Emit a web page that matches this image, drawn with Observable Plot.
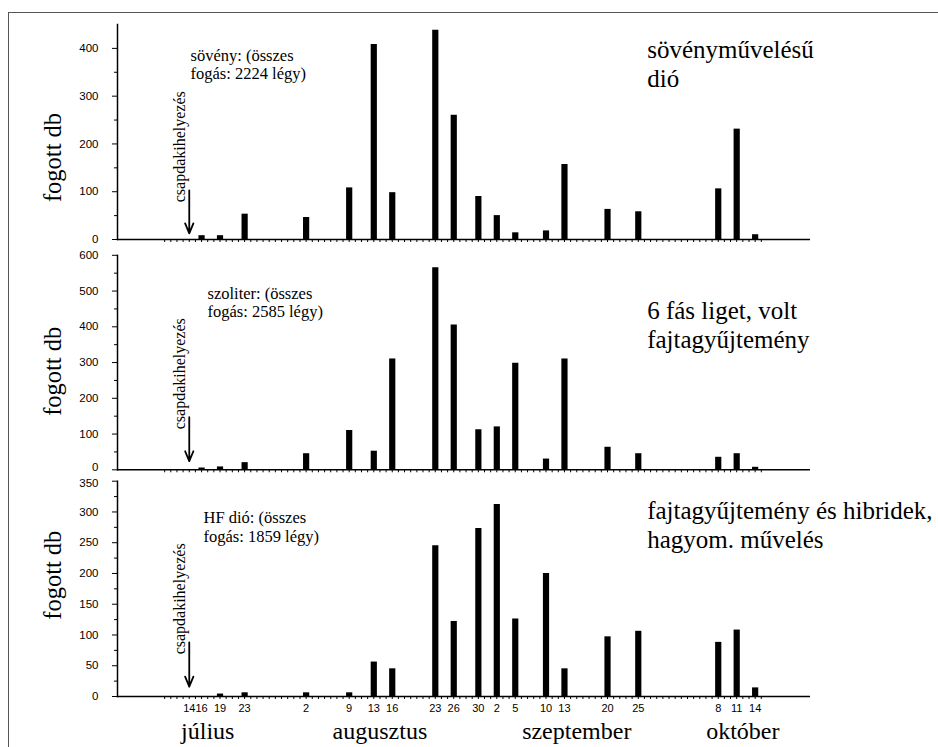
<!DOCTYPE html>
<html><head><meta charset="utf-8">
<script src="https://cdn.jsdelivr.net/npm/d3@7"></script>
<script src="https://cdn.jsdelivr.net/npm/@observablehq/plot@0.6"></script>
<style>
body{margin:0;background:#fff;}
#chart{position:relative;width:938px;height:747px;overflow:hidden;background:#fff;}
#frame{position:absolute;left:8px;top:12px;width:960px;height:760px;border-left:1.5px solid #555;border-top:1.5px solid #555;}
.panel{position:absolute;left:0;}
</style></head><body>
<div id="chart"><div id="frame"></div></div>
<script>
// ---- data ----
const catchDates = ["07-16","07-19","07-23","08-02","08-09","08-13","08-16","08-23","08-26","08-30",
                    "09-02","09-05","09-10","09-13","09-20","09-25","10-08","10-11","10-14"];
const sovenyValues   = [8,8,53,46,108,408,98,438,260,90,50,14,18,157,63,58,106,231,10];
const szoliterValues = [5,8,20,45,110,52,310,565,405,112,120,298,30,310,63,45,35,45,7];
const hfDioValues    = [0,4,6,6,6,56,45,245,122,273,312,126,200,45,97,106,88,108,14];
const tickLabelDates = ["07-14","07-16","07-19","07-23","08-02","08-09","08-13","08-16","08-23","08-26",
                        "08-30","09-02","09-05","09-10","09-13","09-20","09-25","10-08","10-11","10-14"];
const monthNames = ["július","augusztus","szeptember","október"];
const monthLabelDates = ["07-17","08-14","09-15","10-12"];
const trapDate = "07-14";
const trapLabel = "csapdakihelyezés";
const yLabel = "fogott db";
const notes = [["sövény: (összes","fogás: 2224 légy)"],["szoliter: (összes","fogás: 2585 légy)"],["HF dió: (összes","fogás: 1859 légy)"]];
const titles = [["sövényművelésű","dió"],["6 fás liget, volt","fajtagyűjtemény"],["fajtagyűjtemény és hibridek,","hagyom. művelés"]];
const yMax = [450, 600, 350];
const yMajor = [[0,100,200,300,400],[0,100,200,300,400,500,600],[0,50,100,150,200,250,300,350]];
const yMinor = [[50,150,250,350],[50,150,250,350,450,550],[25,75,125,175,225,275,325]];
const arrowSpan = [[13,103],[24,147],[16,88]];

// ---- helpers ----
const year = "2011-";
const parse = d3.utcParse("%Y-%m-%d");
const D = s => parse(year + s);
const serif = "'Liberation Serif','Times New Roman',serif";
const sans = "'Liberation Sans',Arial,sans-serif";
const xDomain = [new Date(Date.UTC(2011,6,2,8)), new Date(Date.UTC(2011,9,23,0))];
const dayTicks = d3.utcDay.range(D("07-10"), D("10-16"));

// where panels meet, the touching tick labels are nudged apart a little
const layout = [
  {top:0,   mt:24,   mb:8,  h:247,   noteDx:73, noteDy:39.4, titleDy:39,   ylabDy:133, nudge: null},
  {top:240, mt:14.8, mb:8,  h:237.3, noteDx:90, noteDy:46.7, titleDy:69.2, ylabDy:116, nudge: {tick: 0, dy: -2}},
  {top:470, mt:10.7, mb:50, h:276,   noteDx:86, noteDy:45.5, titleDy:42.8, ylabDy:94,  nudge: {tick: 350, dy: 2}}
];
const series = [sovenyValues, szoliterValues, hfDioValues];

const chart = document.getElementById("chart");
series.forEach((vals, i) => {
  const L = layout[i];
  const data = catchDates.map((d, j) => ({date: D(d), value: vals[j]})).filter(d => d.value > 0);
  const trap = D(trapDate);
  const nudgeTick = L.nudge ? L.nudge.tick : null;
  const plainLabels = yMajor[i].filter(t => t !== nudgeTick);
  const tickText = {tickSize: 0, tickPadding: 19, fontSize: 11.5, fontFamily: sans, label: null, fill: "black"};
  const marks = [
    Plot.frame({anchor: "left", strokeWidth: 1.5, stroke: "black"}),
    Plot.ruleY([0], {strokeWidth: 1.5, stroke: "black"}),
    Plot.axisY({ticks: yMajor[i], tickSize: 5, tickFormat: () => "", label: null, stroke: "black"}),
    Plot.axisY({ticks: plainLabels, ...tickText}),
    Plot.axisY({ticks: yMinor[i], tickSize: 3, tickFormat: () => "", label: null, stroke: "black"}),
    Plot.axisX({ticks: dayTicks, tickSize: 3, tickFormat: () => "", label: null, stroke: "black"}),
    Plot.ruleX(data, {x: "date", y1: 0, y2: "value", strokeWidth: 6.2, stroke: "black"}),
    Plot.arrow([trap], {x1: d => d, x2: d => d, y1: arrowSpan[i][1], y2: arrowSpan[i][0], headLength: 9, headAngle: 45, strokeWidth: 1.8, stroke: "black"}),
    Plot.text([trapLabel], {x: trap, y: arrowSpan[i][1], text: d => d, rotate: -90, textAnchor: "start", dx: -9, dy: 12, fontFamily: serif, fontSize: 16, fill: "black"}),
    Plot.text([notes[i].join("\n")], {frameAnchor: "top-left", dx: L.noteDx, dy: L.noteDy, textAnchor: "start", lineAnchor: "middle", lineHeight: 1.13, fontFamily: serif, fontSize: 16.5, fill: "black"}),
    Plot.text([titles[i].join("\n")], {frameAnchor: "top-left", dx: 529.7, dy: L.titleDy, textAnchor: "start", lineAnchor: "middle", lineHeight: 1.17, fontFamily: serif, fontSize: 25, fill: "black"}),
    Plot.text([yLabel], {frameAnchor: "top-left", dx: -64, dy: L.ylabDy, rotate: -90, textAnchor: "middle", lineAnchor: "middle", fontFamily: serif, fontSize: 24.5, fill: "black"})
  ];
  if (L.nudge) marks.push(Plot.axisY({ticks: [nudgeTick], ...tickText, dy: L.nudge.dy}));
  if (i === 2) {
    marks.push(
      Plot.axisX({ticks: tickLabelDates.map(D), tickSize: 0, tickPadding: 7.5, tickFormat: d3.utcFormat("%-d"), fontSize: 11, fontFamily: sans, label: null, fill: "black"}),
      Plot.text(monthNames, {x: (d, j) => D(monthLabelDates[j]), frameAnchor: "bottom", dy: 35, lineAnchor: "middle", text: d => d, fontFamily: serif, fontSize: 24, fill: "black"})
    );
  }
  const svg = Plot.plot({
    width: 938, height: L.h,
    marginLeft: 117, marginRight: 128, marginTop: L.mt, marginBottom: L.mb,
    style: {background: "transparent", overflow: "visible"},
    x: {type: "utc", domain: xDomain},
    y: {domain: [0, yMax[i]]},
    marks
  });
  svg.classList.add("panel");
  svg.style.top = L.top + "px";
  svg.style.position = "absolute";
  svg.style.left = "0px";
  chart.appendChild(svg);
});
</script>
</body></html>
